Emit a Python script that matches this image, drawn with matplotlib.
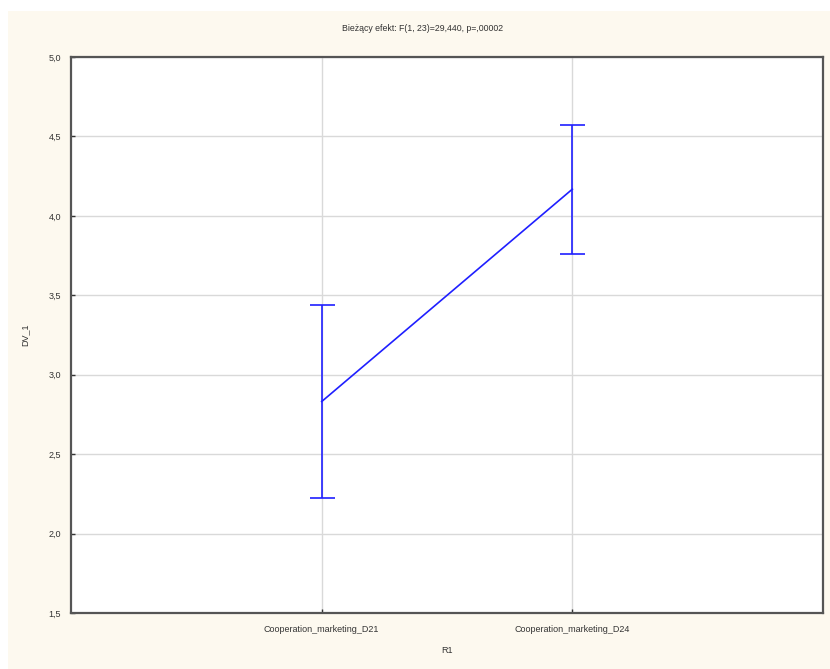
import matplotlib.pyplot as plt
from matplotlib.patches import Rectangle

# data
categories = ["Cooperation_marketing_D21", "Cooperation_marketing_D24"]
means = [2.831, 4.168]
ci_low = [2.226, 3.758]
ci_high = [3.436, 4.574]
title = "Bieżący efekt: F(1, 23)=29,440, p=,00002"

plt.rcParams['font.family'] = ['Liberation Sans', 'DejaVu Sans']

fig = plt.figure(figsize=(8.30, 6.69), dpi=100)
fig.patch.set_facecolor("white")
# cream panel behind the plot
fig.add_artist(Rectangle((8 / 830, 0), 1, 1 - 11 / 669, transform=fig.transFigure,
                         facecolor="#fdf9ef", edgecolor="none", zorder=-10))

ax = fig.add_axes([71 / 830, 1 - 613 / 669, (823 - 71) / 830, (613 - 57) / 669])
ax.set_zorder(1)
ax.set_facecolor("white")

xs = [1, 2]
err_lo = [m - l for m, l in zip(means, ci_low)]
err_hi = [h - m for m, h in zip(means, ci_high)]
ax.plot(xs, means, color="#1f1fff", lw=1.2, zorder=3)
ax.errorbar(xs, means, yerr=[err_lo, err_hi], fmt="none", ecolor="#1f1fff",
            elinewidth=1.2, capsize=9, capthick=1.2, zorder=3)

ax.set_xlim(0, 3)
ax.set_ylim(1.5, 5.0)
ax.set_xticks(xs)
ax.set_xticklabels(categories)
yt = [1.5, 2.0, 2.5, 3.0, 3.5, 4.0, 4.5, 5.0]
ax.set_yticks(yt)
ax.set_yticklabels([f"{v:.1f}".replace(".", ",") for v in yt])
ax.grid(True, color="#d9d9d9", lw=1.0, zorder=0)
ax.set_axisbelow(True)

for s in ax.spines.values():
    s.set_color("#555555")
    s.set_linewidth(1.6)
ax.tick_params(direction="in", length=3, width=1, colors="#333333", labelsize=6.5, pad=7)
ax.tick_params(axis="x", pad=9)

ax.set_xlabel("R1", fontsize=6.5, color="#333333", labelpad=8)
ax.set_ylabel("DV_1", fontsize=6.5, color="#333333", labelpad=14)
fig.text(423 / 830, 1 - 28.5 / 669, title, ha="center", va="center", fontsize=6.3, color="#333333")

fig.savefig("out.png", dpi=100)
